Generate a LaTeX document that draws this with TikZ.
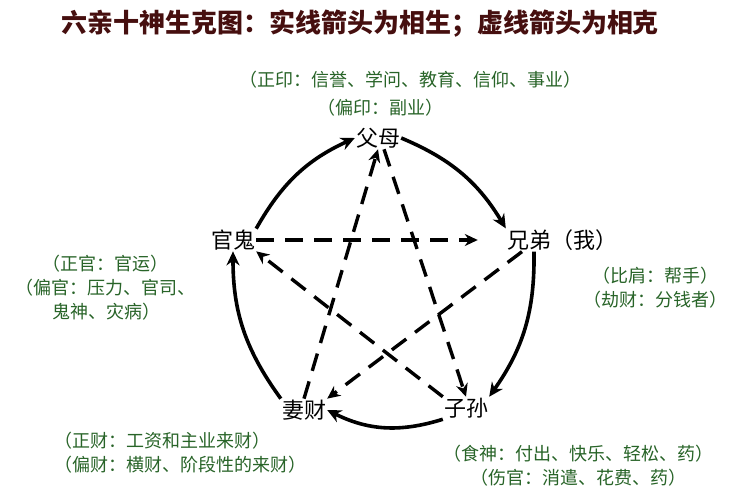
\documentclass[tikz,border=0pt]{standalone}
\usepackage{fontspec}
\setmainfont{Noto Sans CJK SC}
\usetikzlibrary{arrows.meta}
\definecolor{dg}{RGB}{40,100,40}
\definecolor{tr}{RGB}{70,15,15}
\begin{document}
\begin{tikzpicture}[x=1pt,y=-1pt,
  nm/.style={font=\fontsize{22}{22}\selectfont,inner sep=1pt},
  ds/.style={font=\fontsize{18}{24}\selectfont,text=dg,align=center,inner sep=0pt},
  sol/.style={line width=3.6pt,-{Stealth[length=14pt,width=13pt]}},
  dsh/.style={line width=3.4pt,dash pattern=on 18pt off 11pt,-{Stealth[length=13pt,width=12pt]}}]
\useasboundingbox (0,0) rectangle (750,500);
\fill[white] (0,0) rectangle (750,500);
\node[font=\bfseries\fontsize{26}{26}\selectfont,text=tr] (t) at (360,24) {六亲十神生克图：实线箭头为相生；虚线箭头为相克};
\node[ds] (d1) at (410,80) {（正印：信誉、学问、教育、信仰、事业）};
\node[ds] (d2) at (380,108) {（偏印：副业）};
\node[nm] (fm) at (378,138) {父母};
\node[nm] (xd) at (562,240) {兄弟（我）};
\node[nm] (zs) at (466,408) {子孙};
\node[nm] (qc) at (304,410) {妻财};
\node[nm] (gg) at (233,240) {官鬼};
\node[ds] (d3) at (106,288) {（正官：官运）\\（偏官：压力、官司、\\鬼神、灾病）};
\node[ds] (d4) at (655,288) {（比肩：帮手）\\（劫财：分钱者）};
\node[ds,align=left] (d5) at (180,453) {（正财：工资和主业来财）\\（偏财：横财、阶段性的来财）};
\node[ds] (d6) at (578,466) {（食神：付出、快乐、轻松、药）\\（伤官：消遣、花费、药）};
% solid generating cycle
\draw[sol] (fm.east) to[bend left=18] (xd.north west);
\draw[sol] ([xshift=-28pt]xd.south) to[bend left=18] (zs.north east);
\draw[sol] (zs.south west) to[bend left=22] (qc.east);
\draw[sol] (qc.north west) to[bend left=18] (gg.south);
\draw[sol] (gg.north east) to[bend left=18] (fm.west);
% dashed controlling
\draw[dsh] (gg.east) -- ([xshift=-28pt]xd.west);
\draw[dsh] ([xshift=-40pt]xd.south) -- (qc.north east);
\draw[dsh] (qc.north) -- (fm.south);
\draw[dsh] ([xshift=6pt]fm.south) -- (zs.north);
\draw[dsh] (zs.north west) -- (gg.south east);
\end{tikzpicture}
\end{document}
